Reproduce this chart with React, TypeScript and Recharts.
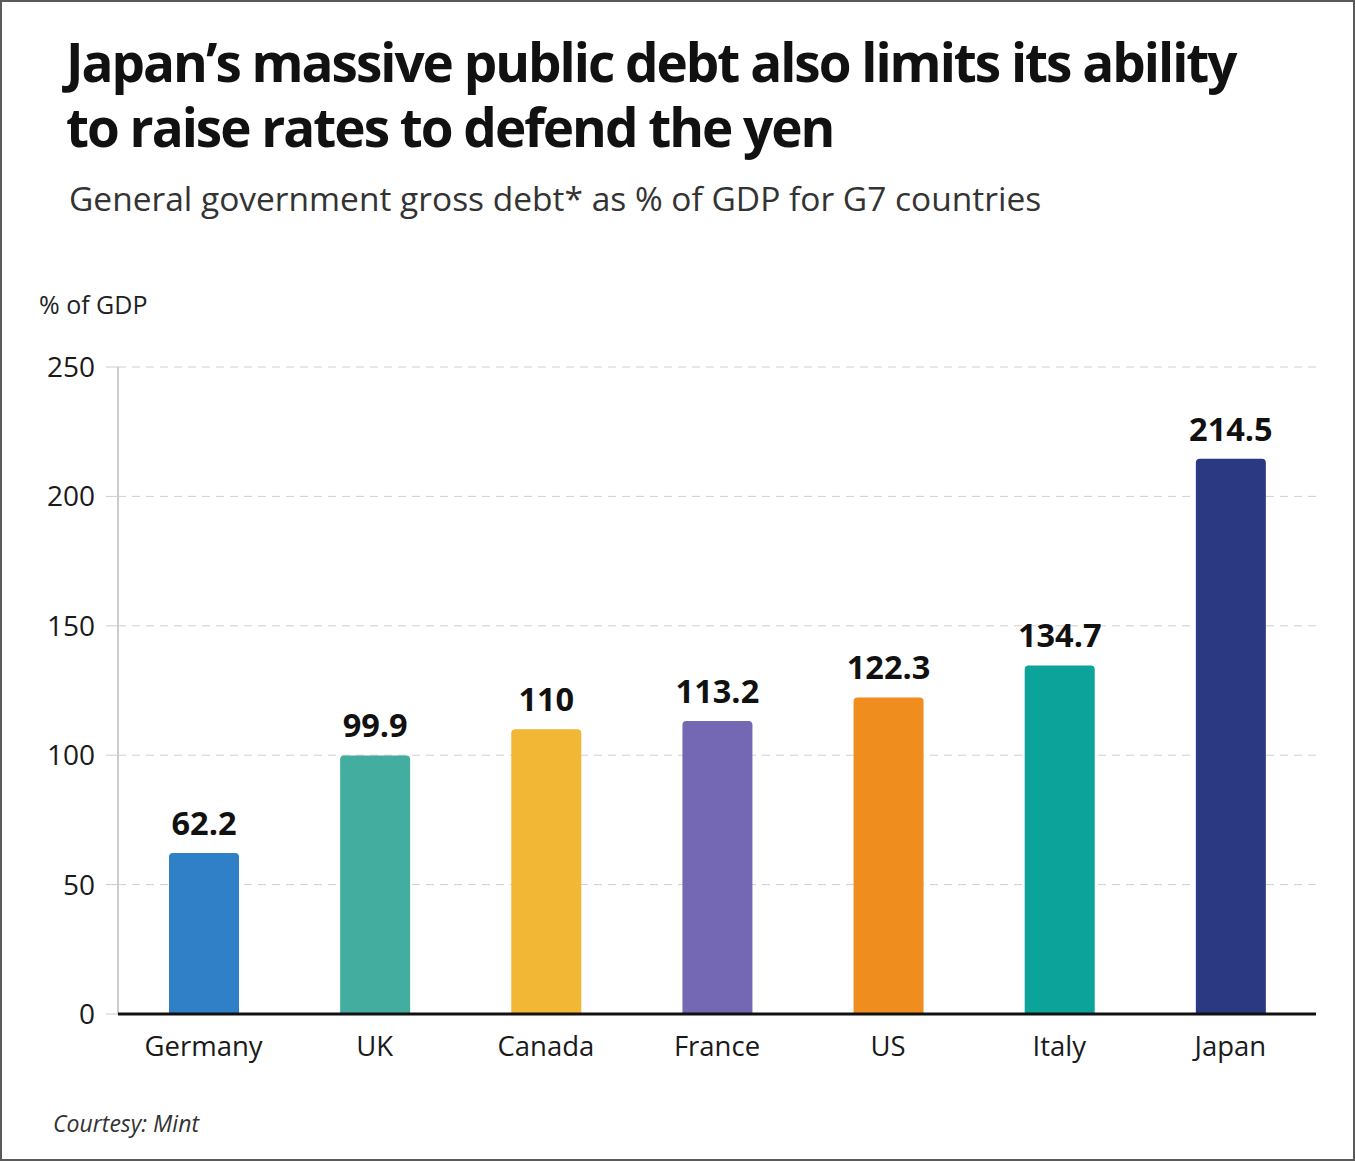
import { BarChart, Bar, XAxis, YAxis, CartesianGrid, LabelList, Cell } from 'recharts';

const countries = ['Germany', 'UK', 'Canada', 'France', 'US', 'Italy', 'Japan'];
const debtPct = [62.2, 99.9, 110, 113.2, 122.3, 134.7, 214.5];
const barColors = ['#2F80C6', '#43AE9F', '#F2B734', '#7467B3', '#F08D1F', '#0CA39A', '#2B3882'];
const yTicks = [0, 50, 100, 150, 200, 250];

const data = countries.map((c, i) => ({ country: c, debt: debtPct[i] }));

const FONT = '"Open Sans", "Noto Sans", sans-serif';

export default function App() {
  return (
    <div
      style={{
        position: 'absolute',
        top: 0,
        left: 0,
        width: 1355,
        height: 1161,
        boxSizing: 'border-box',
        border: '2px solid #5a5a5a',
        background: '#fff',
        fontFamily: FONT,
        overflow: 'hidden',
      }}
    >
      <div
        style={{
          position: 'absolute',
          left: 64,
          top: 27,
          fontSize: 53,
          fontWeight: 700,
          lineHeight: '65px',
          letterSpacing: -2,
          color: '#111',
          whiteSpace: 'nowrap',
        }}
      >
        <div>Japan’s massive public debt also limits its ability</div>
        <div>to raise rates to defend the yen</div>
      </div>
      <div
        style={{
          position: 'absolute',
          left: 67,
          top: 173,
          fontSize: 33.5,
          color: '#333',
          whiteSpace: 'nowrap',
        }}
      >
        General government gross debt* as % of GDP for G7 countries
      </div>
      <div style={{ position: 'absolute', left: 37, top: 285, fontSize: 25, color: '#222' }}>
        % of GDP
      </div>
      <div style={{ position: 'absolute', top: 330, left: -2 }}>
        <BarChart
          width={1355}
          height={760}
          data={data}
          margin={{ top: 35, right: 39, bottom: 18, left: 0 }}
        >
          <CartesianGrid vertical={false} stroke="#cfcfcf" strokeDasharray="8 6" />
          <YAxis
            domain={[0, 250]}
            ticks={yTicks}
            width={118}
            tickSize={12}
            tickMargin={11}
            axisLine={{ stroke: '#cccccc', strokeWidth: 2 }}
            tickLine={{ stroke: '#cccccc' }}
            tick={{ fontSize: 28, fill: '#1a1a1a', fontFamily: FONT }}
          />
          <XAxis
            dataKey="country"
            height={60}
            tickSize={0}
            tickMargin={22}
            axisLine={{ stroke: '#111', strokeWidth: 3 }}
            tickLine={false}
            tick={{ fontSize: 27.5, fill: '#1a1a1a', fontFamily: FONT }}
          />
          <Bar dataKey="debt" barSize={70} radius={[4, 4, 0, 0]} isAnimationActive={false}>
            {data.map((d, i) => (
              <Cell key={d.country} fill={barColors[i]} />
            ))}
            <LabelList
              dataKey="debt"
              position="top"
              offset={18}
              style={{ fontSize: 32.5, fontWeight: 700, fill: '#111', fontFamily: FONT }}
            />
          </Bar>
        </BarChart>
      </div>
      <div
        style={{
          position: 'absolute',
          left: 51,
          top: 1105,
          fontSize: 23,
          fontStyle: 'italic',
          color: '#333',
        }}
      >
        Courtesy: Mint
      </div>
    </div>
  );
}
